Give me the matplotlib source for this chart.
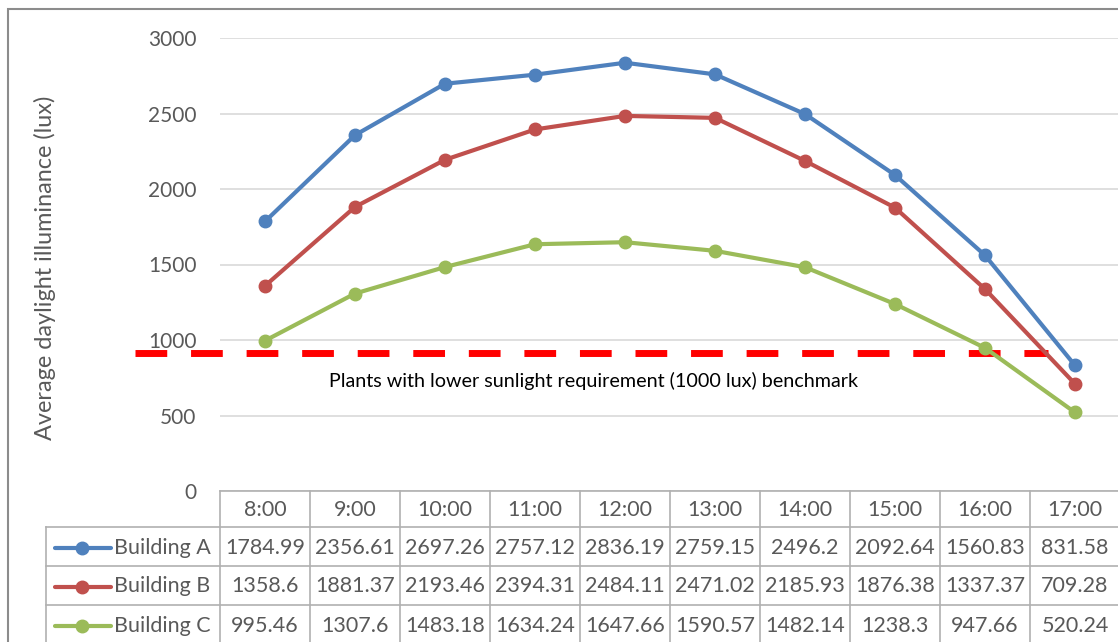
import matplotlib.pyplot as plt
import matplotlib.patches as mpatches
from matplotlib.lines import Line2D

plt.rcParams['font.family'] = ['Lato', 'DejaVu Sans']

# hourly average daylight illuminance (lux)
hours = ["8:00", "9:00", "10:00", "11:00", "12:00", "13:00", "14:00", "15:00", "16:00", "17:00"]
building_a = [1784.99, 2356.61, 2697.26, 2757.12, 2836.19, 2759.15, 2496.2, 2092.64, 1560.83, 831.58]
building_b = [1358.6, 1881.37, 2193.46, 2394.31, 2484.11, 2471.02, 2185.93, 1876.38, 1337.37, 709.28]
building_c = [995.46, 1307.6, 1483.18, 1634.24, 1647.66, 1590.57, 1482.14, 1238.3, 947.66, 520.24]
series_names = ["Building A", "Building B", "Building C"]
benchmark_text = "Plants with lower sunlight requirement (1000 lux) benchmark"
benchmark_level = 915

colors = ["#4f81bd", "#c0504d", "#9bbb59"]
grey_text = "#595959"
table_line = "#b0b0b0"

W, H = 1118, 642
fig = plt.figure(figsize=(W / 100, H / 100), dpi=100)

# chart frame
fig.add_artist(mpatches.Rectangle((8 / W, -0.1), 1.2, 1 - 9 / H + 0.1, fill=False,
                                  edgecolor="#8c8c8c", linewidth=1.5,
                                  transform=fig.transFigure))

ax = fig.add_axes([220 / W, 1 - 491 / H, 900 / W, (491 - 38) / H])
ax.set_xlim(-0.5, 9.5)
ax.set_ylim(0, 3000)
for s in ax.spines.values():
    s.set_visible(False)
ax.set_xticks([])
ax.set_yticks(range(0, 3001, 500))
ax.tick_params(axis='y', length=0, pad=17, labelsize=15, labelcolor=grey_text)
ax.yaxis.grid(True, color="#d9d9d9", linewidth=1.2)
ax.set_axisbelow(True)

x = list(range(len(hours)))
for vals, c in zip([building_a, building_b, building_c], colors):
    ax.plot(x, vals, color=c, linewidth=3, marker='o', markersize=9, clip_on=False, zorder=5)

# benchmark dashed line and caption
ax.plot([-1.444, 8.7], [benchmark_level, benchmark_level], color="#ff0000", linewidth=5,
        dashes=(4.57, 3.43), solid_capstyle='butt', dash_capstyle='butt', clip_on=False, zorder=4)
ax.text(3.65, benchmark_level - 185, benchmark_text, ha='center', va='center',
        fontsize=14.2, color='black')

fig.text(45 / W, 1 - 268 / H, "Average daylight illuminance (lux)", rotation=90,
         ha='center', va='center', fontsize=16.9, color=grey_text)

# data table under the axis
left_col = -0.5 - 174 / 90
tax = fig.add_axes([46 / W, 0, (1120 - 46) / W, (H - 491) / H])
tax.set_xlim(left_col, 9.5)
tax.set_ylim(H, 491)
tax.axis('off')

row_edges = [491, 527, 566, 605, 645]
kw = dict(color=table_line, linewidth=1.2, clip_on=False)
tax.plot([-0.5, 9.5], [row_edges[0]] * 2, **kw)
for yb in row_edges[1:]:
    tax.plot([left_col, 9.5], [yb, yb], **kw)
for i in range(len(hours) + 1):
    tax.plot([i - 0.5] * 2, [row_edges[0], row_edges[-1]], **kw)
tax.plot([left_col] * 2, [row_edges[1], row_edges[-1]], **kw)

for i, h in enumerate(hours):
    tax.text(i, (row_edges[0] + row_edges[1]) / 2 + 1, h, ha='center', va='center',
             fontsize=15.5, color=grey_text)

for r, (name, vals, c) in enumerate(zip(series_names, [building_a, building_b, building_c], colors)):
    yc = (row_edges[r + 1] + row_edges[r + 2]) / 2 + 1
    tax.add_line(Line2D([left_col + 9 / 90, left_col + 65 / 90], [yc, yc], color=c,
                        linewidth=3, solid_capstyle='round', clip_on=False))
    tax.plot([left_col + 36 / 90], [yc], marker='o', markersize=9, color=c, clip_on=False)
    tax.text(left_col + 68 / 90, yc, name, ha='left', va='center', fontsize=15.5, color=grey_text)
    for i, v in enumerate(vals):
        tax.text(i, yc, f"{v:g}", ha='center', va='center', fontsize=15.5, color=grey_text)

plt.savefig("out.png", dpi=100)
